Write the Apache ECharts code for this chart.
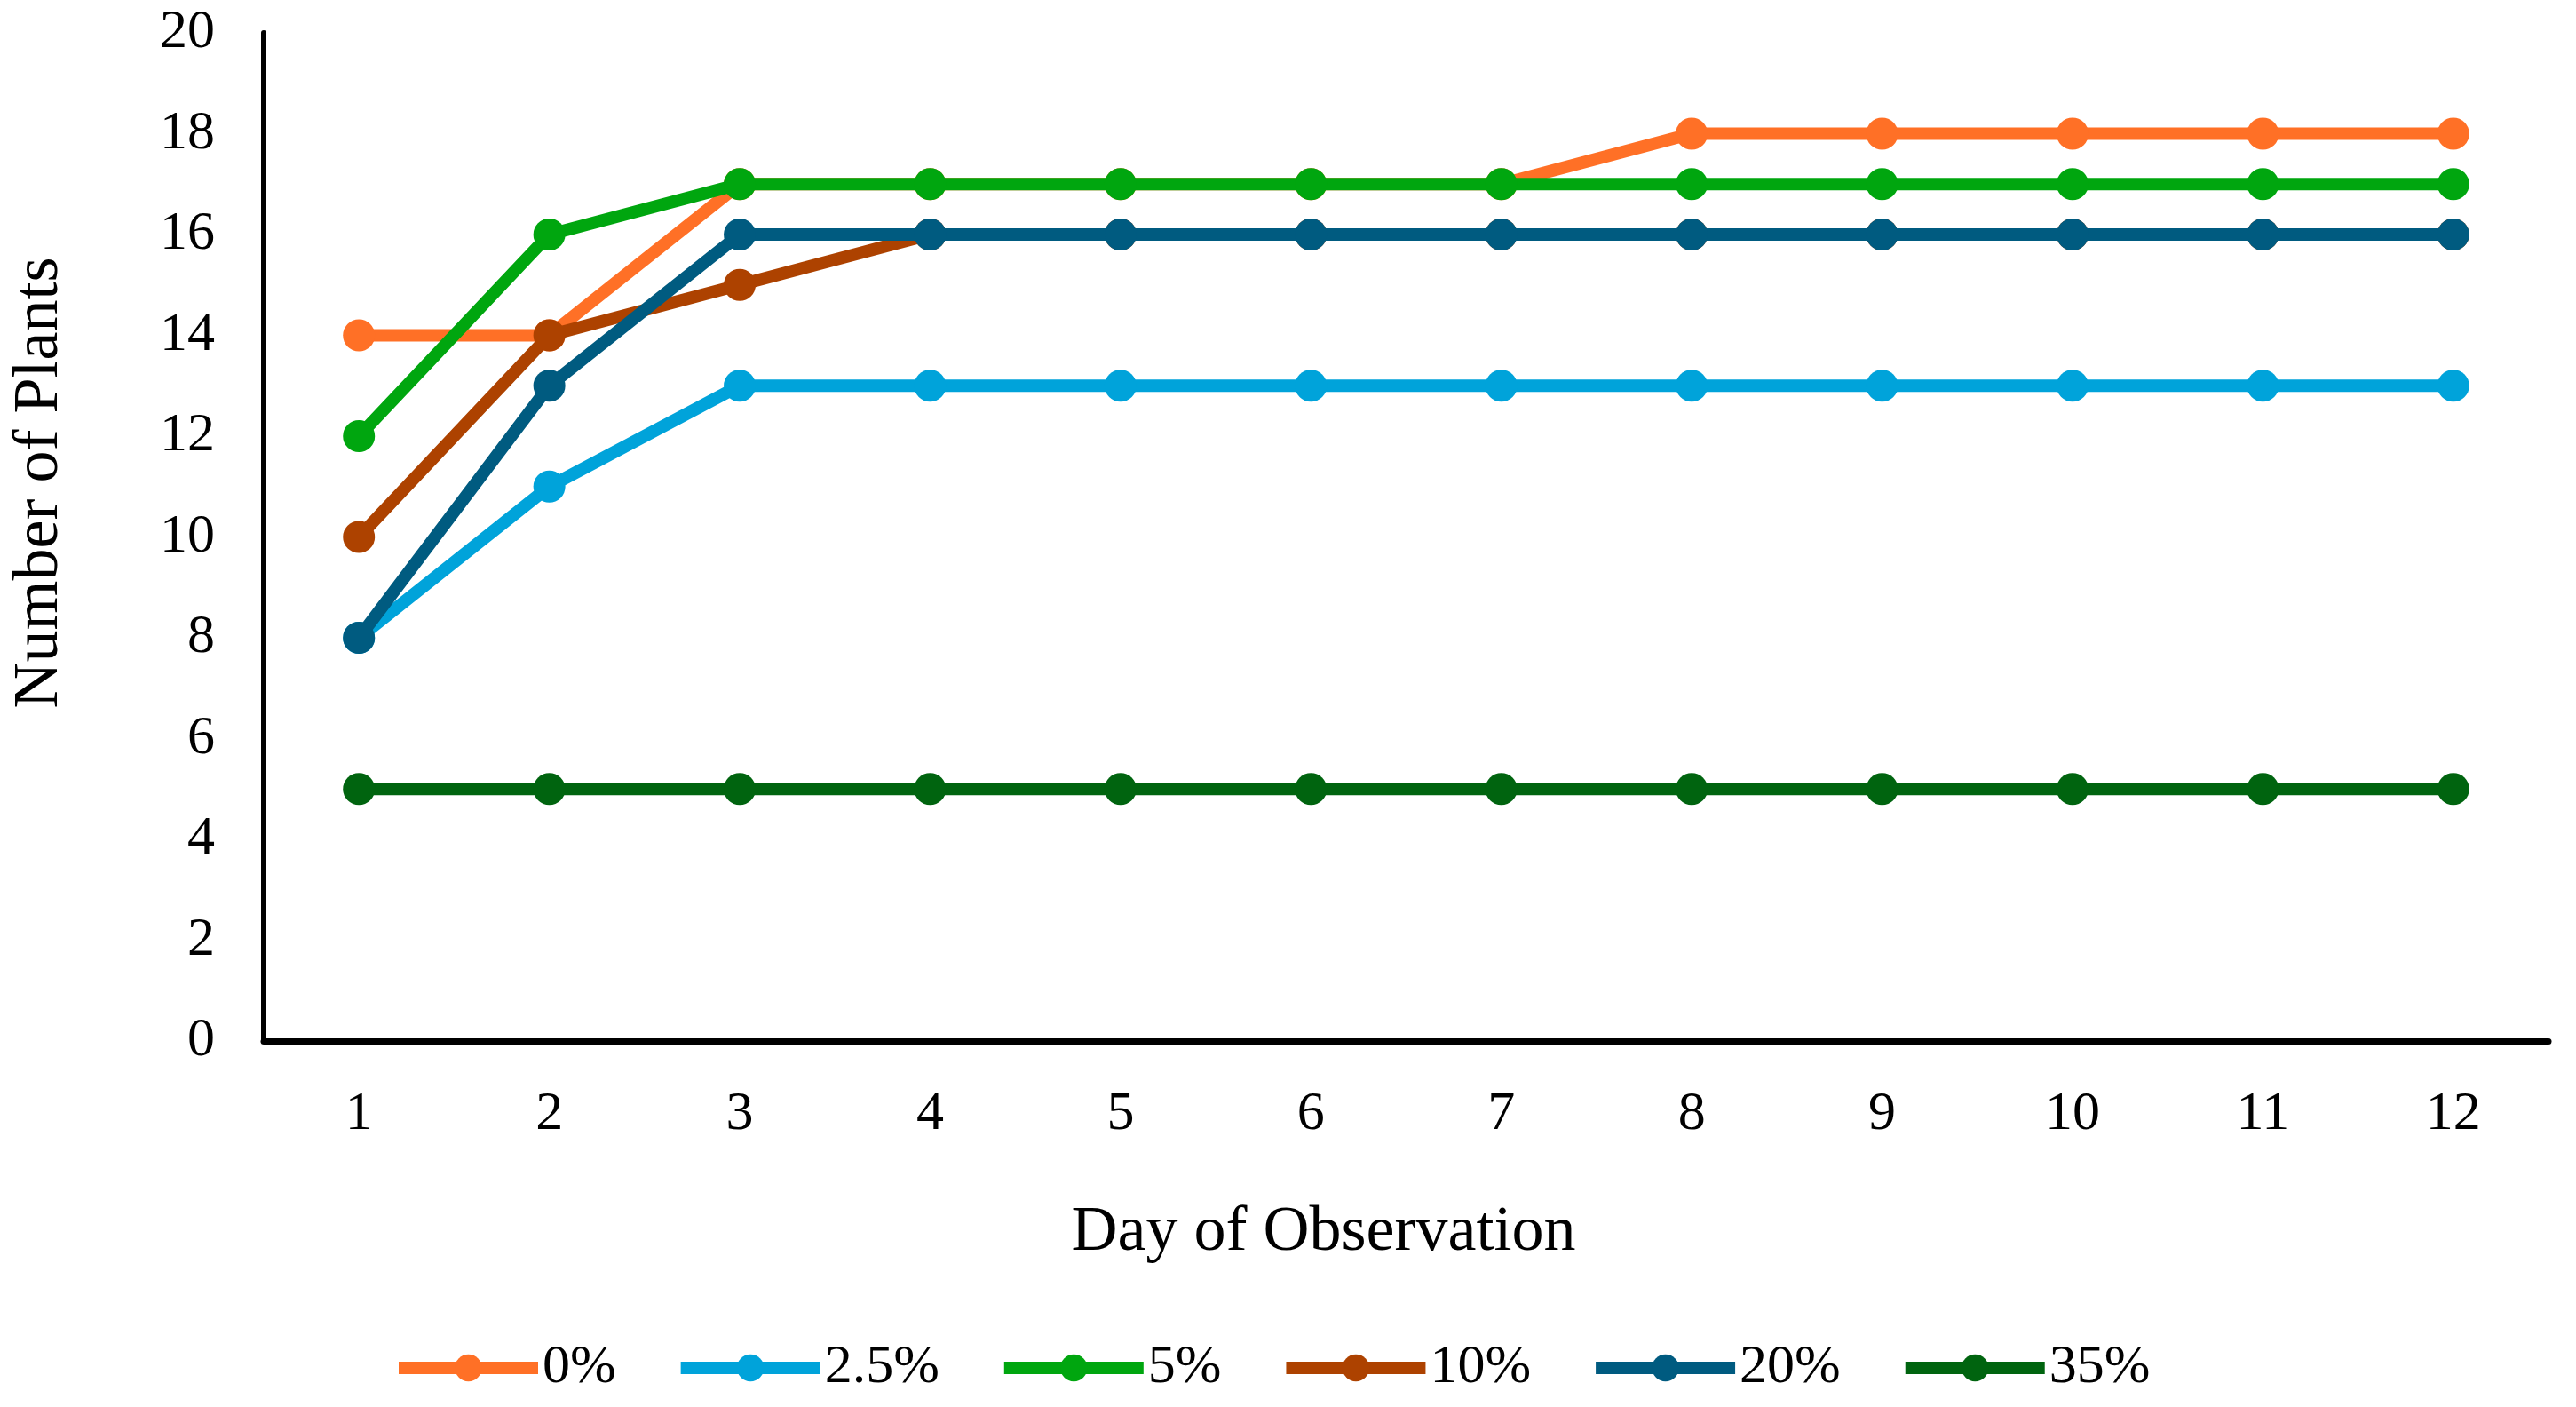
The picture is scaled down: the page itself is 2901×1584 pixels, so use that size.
<!DOCTYPE html>
<html>
<head>
<meta charset="utf-8">
<script src="https://cdn.jsdelivr.net/npm/echarts@6/dist/echarts.min.js"></script>
<style>
html,body{margin:0;padding:0;background:#fff;}
#chart{width:2901px;height:1584px;}
</style>
</head>
<body>
<div id="chart"></div>
<script>
const days = ['1','2','3','4','5','6','7','8','9','10','11','12'];
const seriesNames = ['0%','2.5%','5%','10%','20%','35%'];
const s0   = [14,14,17,17,17,17,17,18,18,18,18,18];
const s2_5 = [8,11,13,13,13,13,13,13,13,13,13,13];
const s5   = [12,16,17,17,17,17,17,17,17,17,17,17];
const s10  = [10,14,15,16,16,16,16,16,16,16,16,16];
const s20  = [8,13,16,16,16,16,16,16,16,16,16,16];
const s35  = [5,5,5,5,5,5,5,5,5,5,5,5];
const yTicks = [0,2,4,6,8,10,12,14,16,18,20];
const colors = ['#FF7026','#00A3DA','#00A60F','#AD4200','#005B80','#00640F'];

const values = [s0, s2_5, s5, s10, s20, s35];
const font = '"Liberation Serif", "Times New Roman", serif';

const chart = echarts.init(document.getElementById('chart'), null, {renderer:'canvas'});
chart.setOption({
  backgroundColor:'#ffffff',
  animation:false,
  grid:{left:297, right:31, top:37, bottom:412, containLabel:false},
  legend:{
    top:1504, left:437,
    itemWidth:157, itemHeight:38, itemGap:66,
    lineStyle:{width:14},
    textStyle:{fontFamily:font, fontSize:62, color:'#000'},
    data:seriesNames
  },
  xAxis:{
    type:'category', data:days, boundaryGap:true,
    name:'Day of Observation', nameLocation:'middle', nameGap:180,
    nameTextStyle:{fontFamily:font, fontSize:72, color:'#000', padding:[0,186,0,0]},
    axisLine:{lineStyle:{color:'#000', width:7}},
    axisTick:{show:false},
    axisLabel:{fontFamily:font, fontSize:62, color:'#000', margin:52}
  },
  yAxis:{
    type:'value', min:yTicks[0], max:yTicks[yTicks.length-1], interval:yTicks[1]-yTicks[0],
    name:'Number of Plants', nameLocation:'middle', nameGap:216,
    nameTextStyle:{fontFamily:font, fontSize:72, color:'#000', padding:[0,0,0,122]},
    axisLine:{show:true, lineStyle:{color:'#000', width:6}},
    axisTick:{show:false},
    splitLine:{show:false},
    axisLabel:{fontFamily:font, fontSize:62, color:'#000', margin:55}
  },
  series: seriesNames.map((n,i)=>({
    name:n, type:'line', data:values[i],
    symbol:'circle', symbolSize:36,
    lineStyle:{width:14, color:colors[i]},
    itemStyle:{color:colors[i]},
    z: 2+i
  }))
});
</script>
</body>
</html>
